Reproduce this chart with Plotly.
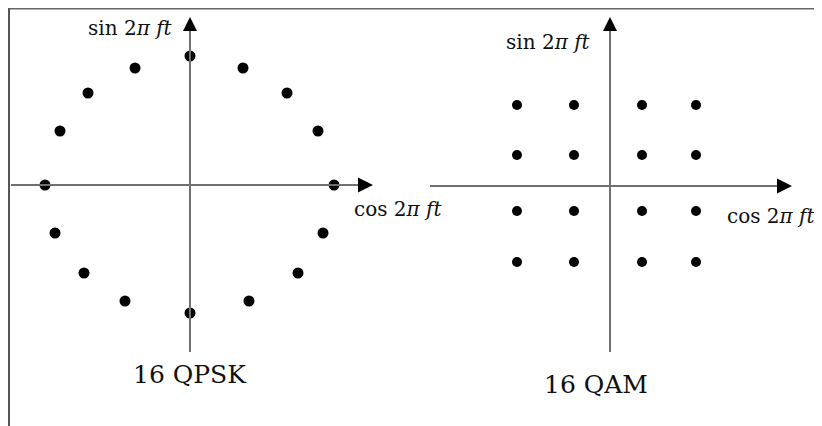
import plotly.graph_objects as go

# 16 QPSK constellation (in-phase, quadrature)
qpsk_i = [0, 53, 97, 128, 144, 133, 108, 59, 0, -65, -106, -135, -145, -130, -102, -55]
qpsk_q = [129, 117, 92, 54, 0, -48, -88, -116, -128, -116, -88, -48, 0, 54, 92, 117]

# 16 QAM constellation levels
qam_i_levels = [-93, -36, 32, 86]
qam_q_levels = [81, 31, -25, -76]
qam_i = [i for q in qam_q_levels for i in qam_i_levels]
qam_q = [q for q in qam_q_levels for i in qam_i_levels]

titles = ["16 QPSK", "16 QAM"]
sin_label = "sin 2<i>π ft</i>"
cos_label = "cos 2<i>π ft</i>"

# page has an 8px body margin, so the figure is 8px smaller in each direction
W, H = 814, 418
FONT = "DejaVu Serif"
AX = "#707070"

fig = go.Figure()
fig.add_trace(go.Scatter(x=qpsk_i, y=qpsk_q, mode="markers", xaxis="x", yaxis="y",
                         marker=dict(size=11, color="black"), hoverinfo="skip"))
fig.add_trace(go.Scatter(x=qam_i, y=qam_q, mode="markers", xaxis="x2", yaxis="y2",
                         marker=dict(size=10, color="black"), hoverinfo="skip"))

hidden = dict(visible=False, fixedrange=True)
fig.update_layout(
    width=W, height=H, margin=dict(l=0, r=0, t=0, b=0),
    paper_bgcolor="white", plot_bgcolor="rgba(0,0,0,0)", showlegend=False,
    xaxis=dict(domain=[0, 1], range=[-182, 632], **hidden),
    yaxis=dict(domain=[0, 1], range=[-241, 177], **hidden),
    xaxis2=dict(domain=[0, 1], range=[-602, 212], overlaying="x", **hidden),
    yaxis2=dict(domain=[0, 1], range=[-240, 178], overlaying="y", **hidden),
)

shapes = []
annotations = []
# frame lines
shapes.append(dict(type="line", xref="paper", yref="paper", x0=1 / W, x1=1, y0=1, y1=1,
                   line=dict(color="#666666", width=3)))
shapes.append(dict(type="line", xref="paper", yref="paper", x0=1 / W, x1=1 / W, y0=0, y1=1,
                   line=dict(color="#555555", width=2)))

panels = [
    dict(xr="x", yr="y", hx=(-179, 183), vy=(-167, 168),
         sin=(-60, 157), cos=(208, -24), title=(0, -189)),
    dict(xr="x2", yr="y2", hx=(-180, 182), vy=(-166, 169),
         sin=(-62, 144), cos=(161, -30), title=(-14, -198)),
]
for k, p in enumerate(panels):
    xr, yr = p["xr"], p["yr"]
    shapes.append(dict(type="line", xref=xr, yref=yr, x0=p["hx"][0], x1=p["hx"][1] - 8, y0=0, y1=0,
                       line=dict(color=AX, width=2)))
    shapes.append(dict(type="line", xref=xr, yref=yr, x0=0, x1=0, y0=p["vy"][0], y1=p["vy"][1] - 8,
                       line=dict(color=AX, width=2)))
    annotations.append(dict(xref=xr, yref=yr, axref=xr, ayref=yr, x=p["hx"][1], y=0,
                            ax=p["hx"][1] - 16, ay=0, text="", showarrow=True, arrowhead=2,
                            arrowsize=3, arrowwidth=1, arrowcolor="black"))
    annotations.append(dict(xref=xr, yref=yr, axref=xr, ayref=yr, x=0, y=p["vy"][1],
                            ax=0, ay=p["vy"][1] - 14, text="", showarrow=True, arrowhead=2,
                            arrowsize=2.8, arrowwidth=1, arrowcolor="black"))
    annotations.append(dict(xref=xr, yref=yr, x=p["sin"][0], y=p["sin"][1], text=sin_label,
                            showarrow=False, font=dict(family=FONT, size=20, color="#111")))
    annotations.append(dict(xref=xr, yref=yr, x=p["cos"][0], y=p["cos"][1], text=cos_label,
                            showarrow=False, font=dict(family=FONT, size=20, color="#111")))
    annotations.append(dict(xref=xr, yref=yr, x=p["title"][0], y=p["title"][1], text=titles[k],
                            showarrow=False, font=dict(family=FONT, size=25, color="#111")))

fig.update_layout(shapes=shapes, annotations=annotations)
fig.write_html("out.html")
